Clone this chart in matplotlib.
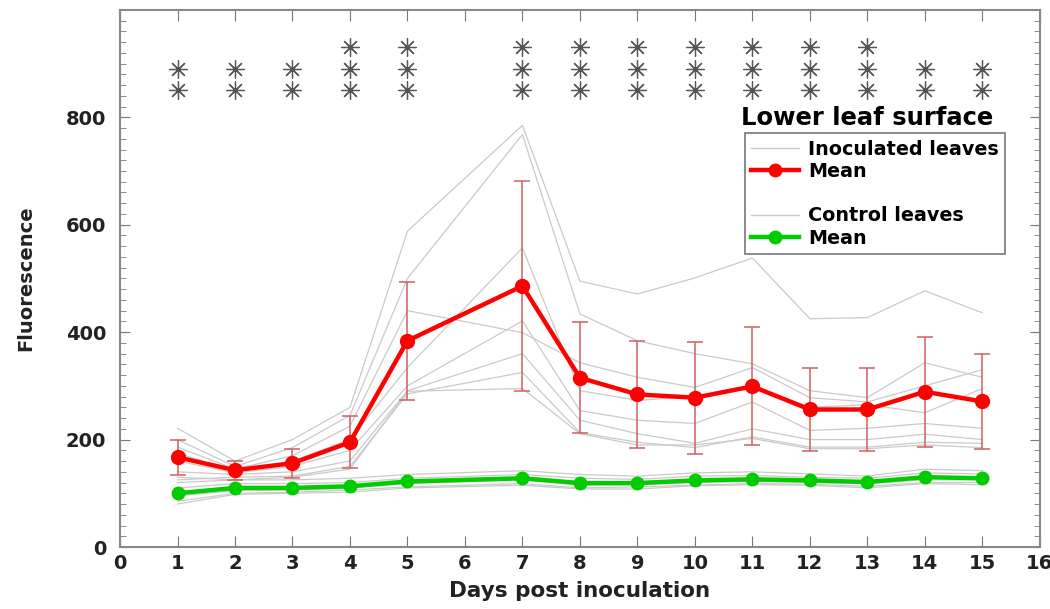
import matplotlib.pyplot as plt
from matplotlib.lines import Line2D
import numpy as np

plt.rcParams['font.family'] = ['DejaVu Sans']

# days with measurements (no day 6)
days = [1, 2, 3, 4, 5, 7, 8, 9, 10, 11, 12, 13, 14, 15]

# inoculated leaves, individual traces
inoc_leaves = [
    [221, 160, 200, 260, 588, 785, 495, 471, 501, 538, 425, 427, 477, 436],
    [200, 150, 185, 245, 500, 768, 434, 384, 360, 341, 291, 278, 343, 316],
    [186, 145, 170, 225, 440, 399, 343, 316, 297, 334, 278, 270, 300, 330],
    [175, 140, 160, 200, 334, 557, 291, 273, 280, 300, 260, 265, 250, 295],
    [160, 138, 150, 180, 300, 421, 254, 236, 230, 270, 217, 221, 230, 221],
    [140, 135, 140, 160, 291, 360, 236, 211, 193, 220, 200, 200, 210, 200],
    [125, 130, 132, 150, 285, 325, 213, 195, 185, 205, 186, 186, 195, 193],
    [130, 125, 130, 145, 290, 295, 211, 190, 190, 202, 183, 183, 190, 185],
]
inoc_mean = [167, 143, 156, 195, 384, 486, 315, 284, 278, 299, 256, 256, 289, 271]
inoc_err = [33, 18, 27, 48, 110, 195, 103, 100, 104, 110, 78, 78, 102, 89]

# control leaves, individual traces
ctrl_leaves = [
    [120, 125, 125, 128, 135, 142, 135, 132, 138, 140, 136, 132, 145, 142],
    [110, 118, 118, 120, 128, 135, 128, 126, 132, 133, 130, 128, 138, 136],
    [102, 112, 112, 115, 122, 130, 120, 120, 125, 127, 125, 122, 130, 130],
    [95, 105, 106, 110, 118, 125, 115, 116, 120, 122, 120, 118, 125, 125],
    [85, 100, 102, 106, 112, 118, 110, 112, 115, 118, 117, 113, 120, 120],
    [80, 98, 100, 102, 110, 115, 108, 108, 114, 116, 115, 110, 118, 116],
]
ctrl_mean = [100, 110, 110, 113, 122, 128, 119, 119, 124, 126, 124, 121, 130, 128]

# significance stars: number per day
star_days = [1, 2, 3, 4, 5, 7, 8, 9, 10, 11, 12, 13, 14, 15]
star_count = [2, 2, 2, 3, 3, 3, 3, 3, 3, 3, 3, 3, 2, 2]
star_levels = [850, 890, 930]

fig = plt.figure(figsize=(10.5, 6.09), dpi=100)
ax = fig.add_axes([0.1143, 0.1018, 0.876, 0.882])

for tr in inoc_leaves:
    ax.plot(days, tr, color='#cacaca', lw=0.9, zorder=1)
for tr in ctrl_leaves:
    ax.plot(days, tr, color='#cacaca', lw=0.9, zorder=1)

ax.errorbar(days, inoc_mean, yerr=inoc_err, fmt='none', ecolor='#d06060',
            elinewidth=1.1, capsize=6, capthick=1.1, zorder=2)
ax.plot(days, inoc_mean, color='#ff0000', lw=3.2, marker='o', markersize=10, zorder=3)
ax.plot(days, ctrl_mean, color='#00cc00', lw=3.2, marker='o', markersize=9, zorder=3)

for d, n in zip(star_days, star_count):
    ax.plot([d] * n, star_levels[:n], linestyle='none', marker=(8, 2, 0),
            markersize=13, color='#555555', markeredgewidth=0.9, zorder=4)

ax.set_xlim(0, 16)
ax.set_ylim(0, 1000)
ax.set_xticks(range(0, 17))
ax.set_yticks([0, 200, 400, 600, 800])
ax.set_yticks(np.arange(0, 1001, 20), minor=True)
ax.tick_params(axis='both', which='both', direction='in', top=True, right=True,
               color='#777777', labelsize=14)
ax.tick_params(axis='x', which='major', length=8, pad=5)
ax.tick_params(axis='y', which='major', length=7, pad=10)
ax.tick_params(axis='y', which='minor', length=4)
for lab in ax.get_xticklabels() + ax.get_yticklabels():
    lab.set_fontweight('bold')
    lab.set_color('#222222')
for sp in ax.spines.values():
    sp.set_color('#888888')
    sp.set_linewidth(1.5)

ax.set_xlabel('Days post inoculation', fontsize=15.5, fontweight='bold',
              color='#222222', labelpad=6)
ax.set_ylabel('Fluorescence', fontsize=14, fontweight='bold', color='#222222', labelpad=22)

handles = [
    Line2D([], [], color='#cacaca', lw=1.0),
    Line2D([], [], color='#ff0000', lw=3.2, marker='o', markersize=9),
    Line2D([], [], color='none'),
    Line2D([], [], color='#cacaca', lw=1.0),
    Line2D([], [], color='#00cc00', lw=3.2, marker='o', markersize=9),
]
labels = ['Inoculated leaves', 'Mean', ' ', 'Control leaves', 'Mean']
leg = ax.legend(handles, labels, loc='upper left', bbox_to_anchor=(0.679, 0.771),
                frameon=True, fancybox=False, edgecolor='#555555',
                handlelength=2.5, handletextpad=0.45, borderpad=0.35, labelspacing=0.17,
                borderaxespad=0, prop={'weight': 'bold', 'size': 13.8})
leg.get_frame().set_linewidth(1.2)
ax.text(0.675, 0.799, 'Lower leaf surface', transform=ax.transAxes, fontsize=17.5,
        fontweight='bold', ha='left', va='center')

fig.savefig('out.png', dpi=100)
